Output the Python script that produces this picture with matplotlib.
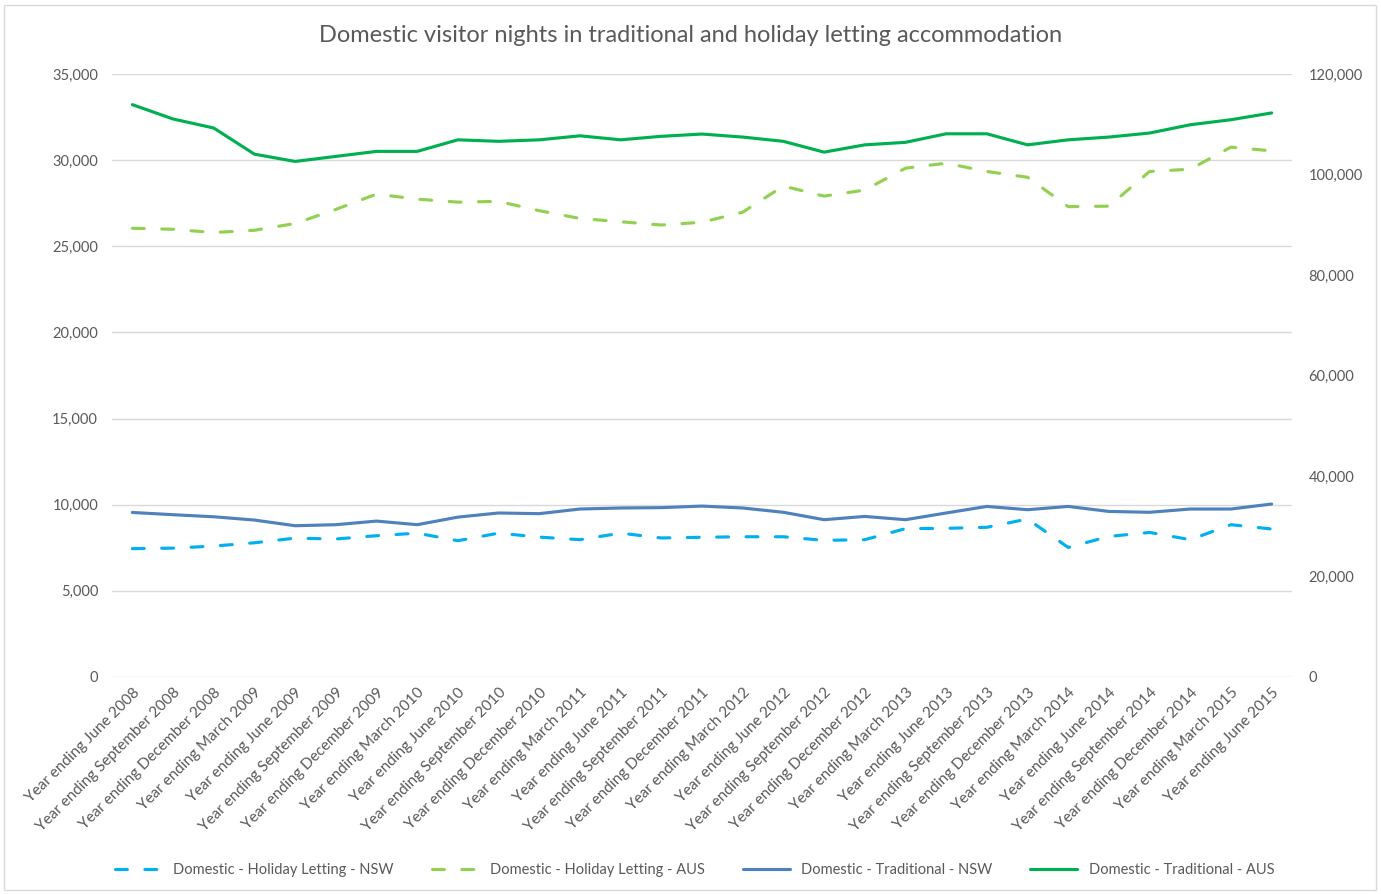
import matplotlib
matplotlib.use("Agg")
import matplotlib.pyplot as plt
from matplotlib.patches import Rectangle
import numpy as np

plt.rcParams['font.family'] = ['Lato', 'DejaVu Sans']

categories = [
    "Year ending June 2008", "Year ending September 2008", "Year ending December 2008",
    "Year ending March 2009", "Year ending June 2009", "Year ending September 2009",
    "Year ending December 2009", "Year ending March 2010", "Year ending June 2010",
    "Year ending September 2010", "Year ending December 2010", "Year ending March 2011",
    "Year ending June 2011", "Year ending September 2011", "Year ending December 2011",
    "Year ending March 2012", "Year ending June 2012", "Year ending September 2012",
    "Year ending December 2012", "Year ending March 2013", "Year ending June 2013",
    "Year ending September 2013", "Year ending December 2013", "Year ending March 2014",
    "Year ending June 2014", "Year ending September 2014", "Year ending December 2014",
    "Year ending March 2015", "Year ending June 2015",
]

# Left axis (NSW)
holiday_nsw = [7450, 7480, 7600, 7790, 8060, 8010, 8200, 8350, 7910, 8350,
               8120, 7970, 8350, 8070, 8110, 8140, 8140, 7930, 7970, 8610,
               8630, 8690, 9170, 7520, 8160, 8390, 7970, 8840, 8590]
traditional_nsw = [9550, 9420, 9300, 9110, 8780, 8840, 9050, 8840, 9280, 9520,
                   9480, 9750, 9810, 9830, 9920, 9810, 9560, 9130, 9320, 9130,
                   9520, 9900, 9710, 9900, 9610, 9560, 9750, 9750, 10040]

# Right axis (AUS)
holiday_aus = [89300, 89100, 88450, 88900, 90250, 93050, 96100, 95100, 94500, 94650,
               92800, 91250, 90600, 89950, 90500, 92500, 97700, 95700, 96900, 101250,
               102250, 100600, 99450, 93600, 93700, 100600, 101050, 105450, 104700]
traditional_aus = [113900, 111050, 109250, 104050, 102600, 103600, 104600, 104600, 106900, 106600,
                   106900, 107700, 106900, 107600, 108050, 107450, 106600, 104450, 105900, 106400,
                   108100, 108100, 105900, 106900, 107450, 108250, 109900, 110900, 112250]

title = "Domestic visitor nights in traditional and holiday letting accommodation"
labels = ["Domestic - Holiday Letting - NSW", "Domestic - Holiday Letting - AUS",
          "Domestic - Traditional - NSW", "Domestic - Traditional - AUS"]

grey = "#595959"
W, H = 1381, 894
fig = plt.figure(figsize=(W / 100, H / 100), dpi=100)
ax = fig.add_axes([112 / W, 1 - 677 / H, (1292 - 112) / W, (677 - 74) / H])
ax2 = ax.twinx()

x = np.arange(len(categories))
lw = 2.25
l1, = ax.plot(x, holiday_nsw, color="#00b0f0", lw=lw, dashes=(3.8, 5.6),
              dash_capstyle="round", label=labels[0], zorder=3)
l3, = ax.plot(x, traditional_nsw, color="#4f81bd", lw=lw, solid_capstyle="round",
              label=labels[2], zorder=3)
l2, = ax2.plot(x, holiday_aus, color="#92d050", lw=lw, dashes=(3.8, 5.6),
               dash_capstyle="round", label=labels[1], zorder=3)
l4, = ax2.plot(x, traditional_aus, color="#00b050", lw=lw, solid_capstyle="round",
               label=labels[3], zorder=3)

ax.set_xlim(-0.5, len(categories) - 0.5)
ax.set_ylim(0, 35000)
ax2.set_ylim(0, 120000)
ax.set_yticks(np.arange(0, 35001, 5000))
ax2.set_yticks(np.arange(0, 120001, 20000))
ax.yaxis.set_major_formatter(matplotlib.ticker.FuncFormatter(lambda v, p: f"{int(v):,}"))
ax2.yaxis.set_major_formatter(matplotlib.ticker.FuncFormatter(lambda v, p: f"{int(v):,}"))
ax.grid(axis="y", color="#d9d9d9", lw=1)
ax.set_axisbelow(True)
for a in (ax, ax2):
    for s in a.spines.values():
        s.set_visible(False)
ax.tick_params(axis="y", length=0, pad=10, labelsize=10.5, labelcolor=grey)
ax2.tick_params(axis="y", length=0, pad=12, labelsize=10.5, labelcolor=grey)
ax.set_xticks(x)
ax.set_xticklabels(categories, rotation=45, ha="right", va="top",
                   rotation_mode="anchor", fontsize=11, color=grey)
ax.tick_params(axis="x", length=0, pad=6)

fig.text(0.5, 1 - 36 / H, title, ha="center", va="center", fontsize=17, color=grey)

fig.legend([l1, l2, l3, l4], labels, loc="center", bbox_to_anchor=(0.503, 1 - 870 / H),
           ncol=4, frameon=False, fontsize=10.5, handlelength=3.2, columnspacing=2.6,
           labelcolor=grey)

fig.patches.append(Rectangle((4 / W, 4 / H), 1 - 9 / W, 1 - 9 / H, transform=fig.transFigure,
                             fill=False, edgecolor="#d9d9d9", lw=1))

fig.savefig("out.png", dpi=100)
